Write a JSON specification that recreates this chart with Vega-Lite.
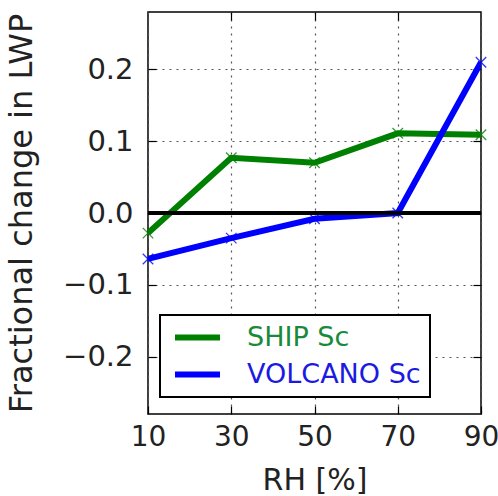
{
  "$schema": "https://vega.github.io/schema/vega-lite/v6.json",
  "width": 333,
  "height": 402,
  "autosize": "none",
  "padding": {"left": 148, "top": 12, "right": 17, "bottom": 82},
  "background": "white",
  "config": {
    "font": "DejaVu Sans",
    "view": {"stroke": "black", "strokeWidth": 1.5}
  },
  "datasets": {
    "lines": [
      {"RH": 10, "value": -0.028, "series": "SHIP Sc"},
      {"RH": 30, "value": 0.077, "series": "SHIP Sc"},
      {"RH": 50, "value": 0.070, "series": "SHIP Sc"},
      {"RH": 70, "value": 0.111, "series": "SHIP Sc"},
      {"RH": 90, "value": 0.109, "series": "SHIP Sc"},
      {"RH": 10, "value": -0.064, "series": "VOLCANO Sc"},
      {"RH": 30, "value": -0.035, "series": "VOLCANO Sc"},
      {"RH": 50, "value": -0.008, "series": "VOLCANO Sc"},
      {"RH": 70, "value": 0.0, "series": "VOLCANO Sc"},
      {"RH": 90, "value": 0.21, "series": "VOLCANO Sc"}
    ]
  },
  "data": {"name": "lines"},
  "layer": [
    {
      "mark": {"type": "line", "strokeWidth": 6, "clip": true},
      "encoding": {
        "x": {
          "field": "RH", "type": "quantitative",
          "scale": {"domain": [10, 90], "nice": false},
          "axis": {
            "values": [10, 30, 50, 70, 90], "title": "RH [%]",
            "titleFontSize": 30, "titleFontWeight": "normal", "titleColor": "#222",
            "labelFontSize": 28, "labelColor": "#222", "labelFlush": false, "labelDx": -3,
            "labelPadding": 17, "titlePadding": 14,
            "tickSize": -8, "tickColor": "black", "tickWidth": 1.2,
            "domain": false,
            "grid": true, "gridDash": [2, 5], "gridColor": "#555", "gridWidth": 1.2
          }
        },
        "y": {
          "field": "value", "type": "quantitative",
          "scale": {"domain": [-0.28, 0.28], "nice": false},
          "axis": {
            "values": [-0.2, -0.1, 0, 0.1, 0.2], "format": ".1f",
            "labelExpr": "replace(datum.label, '-', '\u2212')",
            "title": "Fractional change in LWP",
            "titleFontSize": 32, "titleFontWeight": "normal", "titleColor": "#222",
            "labelFontSize": 29, "labelColor": "#222",
            "labelPadding": 23, "titlePadding": 24,
            "tickSize": -8, "tickColor": "black", "tickWidth": 1.2,
            "domain": false,
            "grid": true, "gridDash": [2, 5], "gridColor": "#555", "gridWidth": 1.2
          }
        },
        "color": {
          "field": "series", "type": "nominal",
          "scale": {"domain": ["SHIP Sc", "VOLCANO Sc"], "range": ["#008000", "#0000ff"]},
          "legend": {
            "orient": "none", "legendX": 12, "legendY": 303,
            "title": null,
            "symbolType": "M-2.25,0H2.25", "symbolStrokeWidth": 6, "symbolSize": 400,
            "symbolOffset": 15,
            "labelFontSize": 27, "labelOffset": 36, "labelLimit": 0, "padding": 9,
            "rowPadding": 9,
            "strokeColor": "black", "fillColor": "white", "cornerRadius": 0,
            "encode": {
              "labels": {"update": {"fill": {"signal": "datum.value === 'SHIP Sc' ? '#1a8a3a' : '#1a1ae0'"}}},
              "legend": {"update": {"strokeWidth": {"value": 2}}}
            }
          }
        }
      }
    },
    {
      "mark": {"type": "point", "shape": "M-1,-1L1,1M-1,1L1,-1", "size": 110, "strokeWidth": 1.3, "filled": false, "opacity": 0.8},
      "encoding": {
        "x": {
          "field": "RH", "type": "quantitative",
          "axis": {"orient": "top", "values": [30, 50, 70], "labels": false, "title": null, "domain": false, "grid": false, "tickSize": -8, "tickColor": "black", "tickWidth": 1.2}
        },
        "y": {
          "field": "value", "type": "quantitative",
          "axis": {"orient": "right", "values": [-0.2, -0.1, 0, 0.1, 0.2], "labels": false, "title": null, "domain": false, "grid": false, "tickSize": -8, "tickColor": "black", "tickWidth": 1.2}
        },
        "color": {"field": "series", "type": "nominal", "legend": null}
      }
    },
    {
      "mark": {"type": "rule", "color": "black", "strokeWidth": 3},
      "encoding": {"y": {"datum": 0, "type": "quantitative", "axis": null}}
    }
  ],
  "resolve": {"axis": {"x": "independent", "y": "independent"}}
}
